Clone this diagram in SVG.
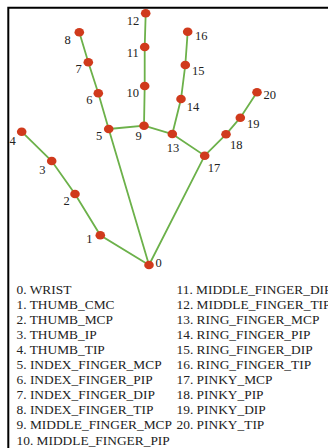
<svg xmlns="http://www.w3.org/2000/svg" width="328" height="448" viewBox="0 0 328 448">
<style>
.e{stroke:#6cb14a;stroke-width:1.8;fill:none;stroke-linecap:round}
.n{fill:#d03a1c}
.l{font-family:"Liberation Serif",serif;font-size:12.5px;fill:#222;text-anchor:middle}
.t{font-family:"Liberation Serif",serif;font-size:13.4px;fill:#222}
</style>
<rect width="328" height="448" fill="#fff"/>
<path d="M8.3,448 V7.8 H328" fill="none" stroke="#000" stroke-width="2"/>
<g id="connectors" class="e">
<polyline points="149,265 100.3,235.3 75,194 51.7,161 21.7,131.7"/>
<polyline points="149,265 108.7,129 98.3,93.3 88.3,62.3 79.3,32.3"/>
<polyline points="108.7,129 144,125.7 144.7,86 144.7,47 145.7,13.3"/>
<polyline points="144,125.7 172.3,134 181,99 185.3,65 187.7,31.7"/>
<polyline points="172.3,134 204.7,155.7 226,134.3 240.3,117.7 257,92.3"/>
<line x1="149" y1="265" x2="204.7" y2="155.7"/>
</g>
<g id="n0"><ellipse class="n" cx="149" cy="265" rx="4.8" ry="4.3"/><text class="l" x="158.5" y="267">0</text></g>
<g id="n1"><ellipse class="n" cx="100.3" cy="235.3" rx="4.8" ry="4.3"/><text class="l" x="89.3" y="243.3">1</text></g>
<g id="n2"><ellipse class="n" cx="75" cy="194" rx="4.8" ry="4.3"/><text class="l" x="66.7" y="205.3">2</text></g>
<g id="n3"><ellipse class="n" cx="51.7" cy="161" rx="4.8" ry="4.3"/><text class="l" x="42.3" y="174.3">3</text></g>
<g id="n4"><ellipse class="n" cx="21.7" cy="131.7" rx="4.8" ry="4.3"/><text class="l" x="12.7" y="144.5">4</text></g>
<g id="n5"><ellipse class="n" cx="108.7" cy="129" rx="4.8" ry="4.3"/><text class="l" x="99" y="140">5</text></g>
<g id="n6"><ellipse class="n" cx="98.3" cy="93.3" rx="4.8" ry="4.3"/><text class="l" x="89.3" y="104.3">6</text></g>
<g id="n7"><ellipse class="n" cx="88.3" cy="62.3" rx="4.8" ry="4.3"/><text class="l" x="78.7" y="72.6">7</text></g>
<g id="n8"><ellipse class="n" cx="79.3" cy="32.3" rx="4.8" ry="4.3"/><text class="l" x="67.7" y="43.6">8</text></g>
<g id="n9"><ellipse class="n" cx="144" cy="125.7" rx="4.8" ry="4.3"/><text class="l" x="138.7" y="140.3">9</text></g>
<g id="n10"><ellipse class="n" cx="144.7" cy="86" rx="4.8" ry="4.3"/><text class="l" x="132.7" y="97">10</text></g>
<g id="n11"><ellipse class="n" cx="144.7" cy="47" rx="4.8" ry="4.3"/><text class="l" x="132.7" y="56.6">11</text></g>
<g id="n12"><ellipse class="n" cx="145.7" cy="13.3" rx="4.8" ry="4.3"/><text class="l" x="133" y="24.8">12</text></g>
<g id="n13"><ellipse class="n" cx="172.3" cy="134" rx="4.8" ry="4.3"/><text class="l" x="173" y="151.6">13</text></g>
<g id="n14"><ellipse class="n" cx="181" cy="99" rx="4.8" ry="4.3"/><text class="l" x="193" y="111">14</text></g>
<g id="n15"><ellipse class="n" cx="185.3" cy="65" rx="4.8" ry="4.3"/><text class="l" x="198.3" y="75">15</text></g>
<g id="n16"><ellipse class="n" cx="187.7" cy="31.7" rx="4.8" ry="4.3"/><text class="l" x="201.3" y="40.3">16</text></g>
<g id="n17"><ellipse class="n" cx="204.7" cy="155.7" rx="4.8" ry="4.3"/><text class="l" x="214" y="172">17</text></g>
<g id="n18"><ellipse class="n" cx="226" cy="134.3" rx="4.8" ry="4.3"/><text class="l" x="236.3" y="148.6">18</text></g>
<g id="n19"><ellipse class="n" cx="240.3" cy="117.7" rx="4.8" ry="4.3"/><text class="l" x="253.3" y="127.6">19</text></g>
<g id="n20"><ellipse class="n" cx="257" cy="92.3" rx="4.8" ry="4.3"/><text class="l" x="269.7" y="99.3">20</text></g>
<g id="legend" class="t">
<text x="16.5" y="293.5">0. WRIST</text>
<text x="16.5" y="308.6">1. THUMB_CMC</text>
<text x="16.5" y="323.7">2. THUMB_MCP</text>
<text x="16.5" y="338.8">3. THUMB_IP</text>
<text x="16.5" y="353.9">4. THUMB_TIP</text>
<text x="16.5" y="369">5. INDEX_FINGER_MCP</text>
<text x="16.5" y="384.1">6. INDEX_FINGER_PIP</text>
<text x="16.5" y="399.2">7. INDEX_FINGER_DIP</text>
<text x="16.5" y="414.3">8. INDEX_FINGER_TIP</text>
<text x="16.5" y="429.4">9. MIDDLE_FINGER_MCP</text>
<text x="16.5" y="444.5">10. MIDDLE_FINGER_PIP</text>
<text x="176.5" y="293.5">11. MIDDLE_FINGER_DIP</text>
<text x="176.5" y="308.6">12. MIDDLE_FINGER_TIP</text>
<text x="176.5" y="323.7">13. RING_FINGER_MCP</text>
<text x="176.5" y="338.8">14. RING_FINGER_PIP</text>
<text x="176.5" y="353.9">15. RING_FINGER_DIP</text>
<text x="176.5" y="369">16. RING_FINGER_TIP</text>
<text x="176.5" y="384.1">17. PINKY_MCP</text>
<text x="176.5" y="399.2">18. PINKY_PIP</text>
<text x="176.5" y="414.3">19. PINKY_DIP</text>
<text x="176.5" y="429.4">20. PINKY_TIP</text>
</g>
</svg>
